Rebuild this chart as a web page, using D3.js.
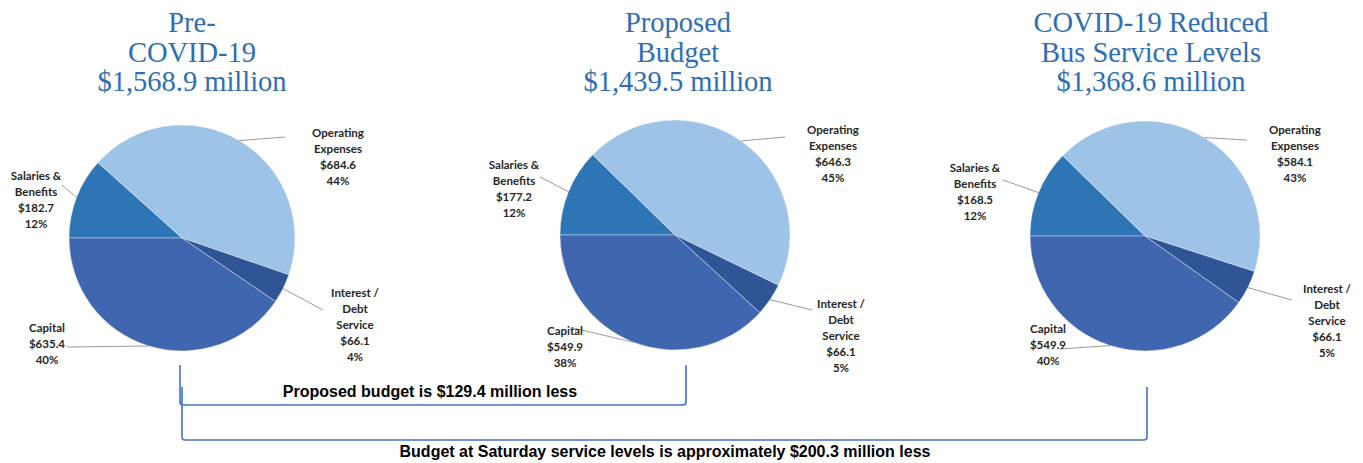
<!DOCTYPE html>
<html>
<head>
<meta charset="utf-8">
<script src="https://cdn.jsdelivr.net/npm/d3@7"></script>
<style>
  body { margin: 0; background: #fff; }
  svg { display: block; }
</style>
</head>
<body>
<div id="chart"></div>
<script>
// categories, in the order the slices run clockwise from 9 o'clock
var categories = ["Salaries & Benefits", "Operating Expenses", "Interest / Debt Service", "Capital"];
var labelLines = [["Salaries &", "Benefits"], ["Operating", "Expenses"], ["Interest /", "Debt", "Service"], ["Capital"]];

// values ($ million) for each scenario
var preCovid = [182.7, 684.6, 66.1, 635.4];
var proposed = [177.2, 646.3, 66.1, 549.9];
var reduced  = [168.5, 584.1, 66.1, 549.9];
// percent labels as printed
var prePct = ["12%", "44%", "4%", "40%"];
var propPct = ["12%", "45%", "5%", "38%"];
var redPct = ["12%", "43%", "5%", "40%"];

var titles = [
  ["Pre-", "COVID-19", "$1,568.9 million"],
  ["Proposed", "Budget", "$1,439.5 million"],
  ["COVID-19 Reduced", "Bus Service Levels", "$1,368.6 million"]
];
var notes = ["Proposed budget is $129.4 million less",
             "Budget at Saturday service levels is approximately $200.3 million less"];

var colors = ["#2E75B6", "#9DC3E6", "#2F5597", "#4066B0"];

var w = 1363, h = 463;

// layout: pie centre, radius, title centre, label offsets (text / leader end)
var pies = [
  { vals: preCovid, pct: prePct, cx: 182, cy: 238, r: 113, tx: 192,
    lab: [[-146, -62, -120, -53], [156, -105, 103, -101], [173, 55, 141, 72], [-135, 90, -115, 109]] },
  { vals: proposed, pct: propPct, cx: 675, cy: 235, r: 115, tx: 678,
    lab: [[-161, -70, -135, -58], [158, -105, 110, -98], [166, 69, 137, 75], [-110, 96, -102, 93]] },
  { vals: reduced, pct: redPct, cx: 1145, cy: 236, r: 115, tx: 1151,
    lab: [[-170, -68, -142, -56], [150, -106, 102, -96], [182, 53, 147, 64], [-97, 93, -85, 113]] }
];

var svg = d3.select("#chart").append("svg")
  .attr("width", w)
  .attr("height", h);

var pie = d3.pie().sort(null)
  .startAngle(-Math.PI / 2)
  .endAngle(Math.PI * 1.5);

pies.forEach(function(p, pi) {
  var g = svg.append("g").attr("transform", "translate(" + p.cx + "," + p.cy + ")");
  var arc = d3.arc().innerRadius(0).outerRadius(p.r);
  var arcs = pie(p.vals);

  g.selectAll("path.slice")
    .data(arcs)
    .enter()
    .append("path")
    .attr("class", "slice")
    .attr("d", arc)
    .attr("fill", function(d, i) { return colors[i]; })
    .attr("stroke", "rgba(255,255,255,0.55)")
    .attr("stroke-width", 0.7);

  // leader lines from slice edge to label
  g.selectAll("line.leader")
    .data(arcs)
    .enter()
    .append("line")
    .attr("x1", function(d) { var a = (d.startAngle + d.endAngle) / 2; return Math.sin(a) * p.r; })
    .attr("y1", function(d) { var a = (d.startAngle + d.endAngle) / 2; return -Math.cos(a) * p.r; })
    .attr("x2", function(d, i) { return p.lab[i][2]; })
    .attr("y2", function(d, i) { return p.lab[i][3]; })
    .attr("stroke", "#808080")
    .attr("stroke-width", 0.8);

  // labels
  arcs.forEach(function(d, i) {
    var lines = labelLines[i].concat(["$" + p.vals[i].toFixed(1), p.pct[i]]);
    var t = g.append("text")
      .attr("text-anchor", "middle")
      .attr("font-family", "Lato, 'Open Sans', sans-serif")
      .attr("font-weight", "bold")
      .attr("font-size", 11.5)
      .attr("fill", "#262626");
    lines.forEach(function(s, k) {
      t.append("tspan")
        .attr("x", p.lab[i][0])
        .attr("y", p.lab[i][1] + k * 16)
        .attr("dy", "0.35em")
        .text(s);
    });
  });

  // title
  var tt = svg.append("text")
    .attr("text-anchor", "middle")
    .attr("font-family", "'Liberation Serif', 'DejaVu Serif', serif")
    .attr("font-size", 28.5)
    .attr("fill", "#2E6EB2");
  titles[pi].forEach(function(s, k) {
    tt.append("tspan").attr("x", p.tx).attr("y", 32 + k * 29.5).text(s);
  });
});

// brackets
var brackets = [
  { x1: 180, x2: 686, top: 365, bot: 405, tx: 430, ty: 391 },
  { x1: 182, x2: 1147, top: 387, bot: 440, tx: 665, ty: 451 }
];
brackets.forEach(function(b, i) {
  var p = d3.path();
  p.moveTo(b.x1, b.top);
  p.lineTo(b.x1, b.bot - 3);
  p.quadraticCurveTo(b.x1, b.bot, b.x1 + 3, b.bot);
  p.lineTo(b.x2 - 3, b.bot);
  p.quadraticCurveTo(b.x2, b.bot, b.x2, b.bot - 3);
  p.lineTo(b.x2, b.top);
  svg.append("path")
    .attr("d", p.toString())
    .attr("fill", "none")
    .attr("stroke", "#4472C4")
    .attr("stroke-width", 1.6);
  svg.append("text")
    .attr("x", b.tx)
    .attr("y", b.ty)
    .attr("dy", "0.35em")
    .attr("text-anchor", "middle")
    .attr("font-family", "'Liberation Sans', Arial, sans-serif")
    .attr("font-weight", "bold")
    .attr("font-size", 16)
    .attr("fill", "#000")
    .text(notes[i]);
});
</script>
</body>
</html>
